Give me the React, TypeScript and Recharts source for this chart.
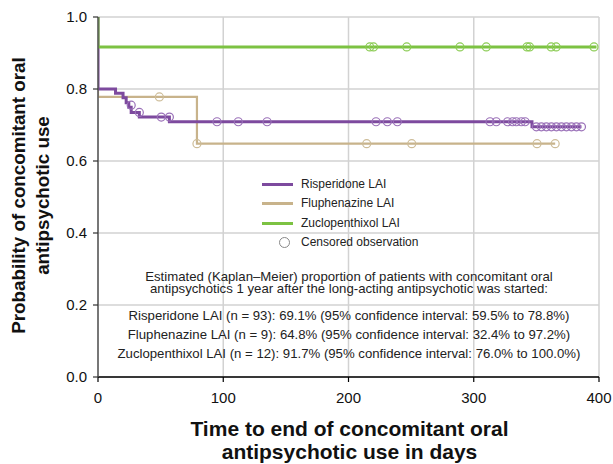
import React from 'react';
import { ComposedChart, Line, Scatter, XAxis, YAxis, CartesianGrid, Label } from 'recharts';

const xTicks = [0, 100, 200, 300, 400];
const yTicks = [0, 0.2, 0.4, 0.6, 0.8, 1.0];

const risperidoneSteps = [
  { x: 0, y: 1.0 }, { x: 0, y: 0.8 }, { x: 14, y: 0.788 }, { x: 20, y: 0.776 },
  { x: 22.5, y: 0.762 }, { x: 24.6, y: 0.749 }, { x: 26.5, y: 0.735 }, { x: 33, y: 0.722 },
  { x: 57, y: 0.709 }, { x: 346.5, y: 0.695 }, { x: 386, y: 0.695 },
];
const fluphenazineSteps = [
  { x: 0, y: 1.0 }, { x: 0, y: 0.778 }, { x: 79, y: 0.648 }, { x: 365, y: 0.648 },
];
const zuclopenthixolSteps = [
  { x: 0, y: 1.0 }, { x: 0, y: 0.917 }, { x: 398, y: 0.917 },
];

const risperidoneCensored = [
  { x: 26.5, y: 0.755 }, { x: 33, y: 0.735 }, { x: 50.5, y: 0.722 }, { x: 57, y: 0.722 },
  { x: 95, y: 0.709 }, { x: 112, y: 0.709 }, { x: 135, y: 0.709 }, { x: 222, y: 0.709 },
  { x: 231, y: 0.709 }, { x: 239, y: 0.709 }, { x: 313, y: 0.709 }, { x: 318, y: 0.709 },
  { x: 327, y: 0.709 }, { x: 331, y: 0.709 }, { x: 334, y: 0.709 }, { x: 338, y: 0.709 },
  { x: 341, y: 0.709 }, { x: 350, y: 0.695 }, { x: 354, y: 0.695 }, { x: 358, y: 0.695 },
  { x: 362, y: 0.695 }, { x: 366, y: 0.695 }, { x: 370, y: 0.695 }, { x: 374, y: 0.695 },
  { x: 378, y: 0.695 }, { x: 382, y: 0.695 }, { x: 386, y: 0.695 },
];
const fluphenazineCensored = [
  { x: 49, y: 0.778 }, { x: 79, y: 0.648 }, { x: 214.5, y: 0.648 }, { x: 250.5, y: 0.648 },
  { x: 350.5, y: 0.648 }, { x: 365, y: 0.648 },
];
const zuclopenthixolCensored = [
  { x: 217, y: 0.917 }, { x: 220, y: 0.917 }, { x: 246.5, y: 0.917 }, { x: 289, y: 0.917 },
  { x: 310, y: 0.917 }, { x: 342.5, y: 0.917 }, { x: 344.6, y: 0.917 }, { x: 361.8, y: 0.917 },
  { x: 365.8, y: 0.917 }, { x: 396, y: 0.917 },
];

const seriesNames = ['Risperidone LAI', 'Fluphenazine LAI', 'Zuclopenthixol LAI'];
const censoredLabel = 'Censored observation';
const noteLines = [
  'Estimated (Kaplan\u2013Meier) proportion of patients with concomitant oral',
  'antipsychotics 1 year after the long-acting antipsychotic was started:',
];
const resultLines = [
  'Risperidone LAI (n = 93): 69.1% (95% confidence interval: 59.5% to 78.8%)',
  'Fluphenazine LAI (n = 9): 64.8% (95% confidence interval: 32.4% to 97.2%)',
  'Zuclopenthixol LAI (n = 12): 91.7% (95% confidence interval: 76.0% to 100.0%)',
];
const yTitle = ['Probability of concomitant oral', 'antipsychotic use'];
const xTitle = ['Time to end of concomitant oral', 'antipsychotic use in days'];

const PURPLE = '#7D4A9E';
const TAN = '#C8B38B';
const GREEN = '#7CC242';
const PURPLE_C = '#9A70B8';
const TAN_C = '#CDBC98';
const GREEN_C = '#8ACB52';
const FONT = '"Liberation Sans", Arial, Helvetica, sans-serif';

const circleShape = (color: string) => (props: any) => (
  <circle cx={props.cx} cy={props.cy} r={4} fill="none" stroke={color} strokeWidth={1.2} />
);

const YTitle = (props: any) => {
  const vb = props.viewBox || { x: 0, y: 17, width: 98, height: 360 };
  const cy = vb.y + vb.height / 2 - 1.5;
  return (
    <g>
      <text transform={`translate(24.5, ${cy}) rotate(-90)`} textAnchor="middle" fontSize={18.8} fontWeight="bold" fill="#111" fontFamily={FONT}>{yTitle[0]}</text>
      <text transform={`translate(49, ${cy}) rotate(-90)`} textAnchor="middle" fontSize={18.8} fontWeight="bold" fill="#111" fontFamily={FONT}>{yTitle[1]}</text>
    </g>
  );
};

const XTitle = (props: any) => {
  const vb = props.viewBox || { x: 98, y: 377, width: 501, height: 87 };
  const cx = vb.x + vb.width / 2 + 1;
  return (
    <g>
      <text x={cx} y={436} textAnchor="middle" fontSize={21} fontWeight="bold" fill="#111" fontFamily={FONT}>{xTitle[0]}</text>
      <text x={cx} y={459} textAnchor="middle" fontSize={21} fontWeight="bold" fill="#111" fontFamily={FONT}>{xTitle[1]}</text>
    </g>
  );
};

export default function App() {
  const legendRows = [
    { name: seriesNames[0], color: PURPLE, top: 184 },
    { name: seriesNames[1], color: TAN, top: 203 },
    { name: seriesNames[2], color: GREEN, top: 223 },
  ];
  const textStyle: React.CSSProperties = {
    position: 'absolute', left: 49, width: 600, height: 12, lineHeight: '12px',
    textAlign: 'center', fontSize: 13.2, color: '#222', whiteSpace: 'nowrap',
  };
  return (
    <div style={{ position: 'absolute', left: 0, top: 0, width: 613, height: 464, background: '#fff', fontFamily: FONT }}>
      <ComposedChart width={613} height={464} margin={{ top: 17, right: 14, bottom: 0, left: 0 }}>
        <CartesianGrid stroke="#D2D2D2" strokeWidth={1.5} />
        <XAxis
          type="number"
          dataKey="x"
          domain={[0, 400]}
          ticks={xTicks}
          height={87}
          tick={{ fontSize: 15, fill: '#111', fontFamily: FONT }}
          tickSize={5}
          tickMargin={10}
          axisLine={{ stroke: '#000', strokeWidth: 1.5 }}
          tickLine={{ stroke: '#000', strokeWidth: 1.2 }}
          allowDataOverflow
        >
          <Label content={<XTitle />} position="insideBottom" />
        </XAxis>
        <YAxis
          type="number"
          dataKey="y"
          domain={[0, 1]}
          ticks={yTicks}
          width={98}
          tickFormatter={(v: number) => v.toFixed(1)}
          tick={{ fontSize: 15, fill: '#111', fontFamily: FONT }}
          tickSize={5}
          tickMargin={6}
          axisLine={{ stroke: '#555', strokeWidth: 1.5 }}
          tickLine={{ stroke: '#333', strokeWidth: 1.2 }}
          allowDataOverflow
        >
          <Label content={<YTitle />} position="insideLeft" />
        </YAxis>
        <Line data={fluphenazineSteps} dataKey="y" type="stepAfter" stroke={TAN} strokeWidth={2.2} dot={false} activeDot={false} isAnimationActive={false} />
        <Line data={risperidoneSteps} dataKey="y" type="stepAfter" stroke={PURPLE} strokeWidth={3} dot={false} activeDot={false} isAnimationActive={false} />
        <Line data={zuclopenthixolSteps} dataKey="y" type="stepAfter" stroke={GREEN} strokeWidth={3} dot={false} activeDot={false} isAnimationActive={false} />
        <Scatter data={fluphenazineCensored} dataKey="y" shape={circleShape(TAN_C)} isAnimationActive={false} />
        <Scatter data={risperidoneCensored} dataKey="y" shape={circleShape(PURPLE_C)} isAnimationActive={false} />
        <Scatter data={zuclopenthixolCensored} dataKey="y" shape={circleShape(GREEN_C)} isAnimationActive={false} />
      </ComposedChart>

      {legendRows.map((r) => (
        <div key={r.name}>
          <div style={{ position: 'absolute', left: 262, top: r.top - 1.5, width: 31, height: 3, background: r.color }} />
          <div style={{ position: 'absolute', left: 301, top: r.top - 10, height: 20, lineHeight: '20px', fontSize: 12, color: '#222', whiteSpace: 'nowrap' }}>{r.name}</div>
        </div>
      ))}
      <svg style={{ position: 'absolute', left: 278, top: 236 }} width={13} height={13}>
        <circle cx={6.5} cy={6.5} r={5} fill="#fff" stroke="#888" strokeWidth={1} />
      </svg>
      <div style={{ position: 'absolute', left: 301, top: 242 - 10, height: 20, lineHeight: '20px', fontSize: 12, color: '#222', whiteSpace: 'nowrap' }}>{censoredLabel}</div>

      <div style={{ ...textStyle, top: 270.5, height: 26, lineHeight: '12.8px', whiteSpace: 'pre' }}>{noteLines.join('\n')}</div>
      {resultLines.map((t, i) => (
        <div key={t} style={{ ...textStyle, top: 321 + i * 19 - 10.6 }}>{t}</div>
      ))}
    </div>
  );
}
